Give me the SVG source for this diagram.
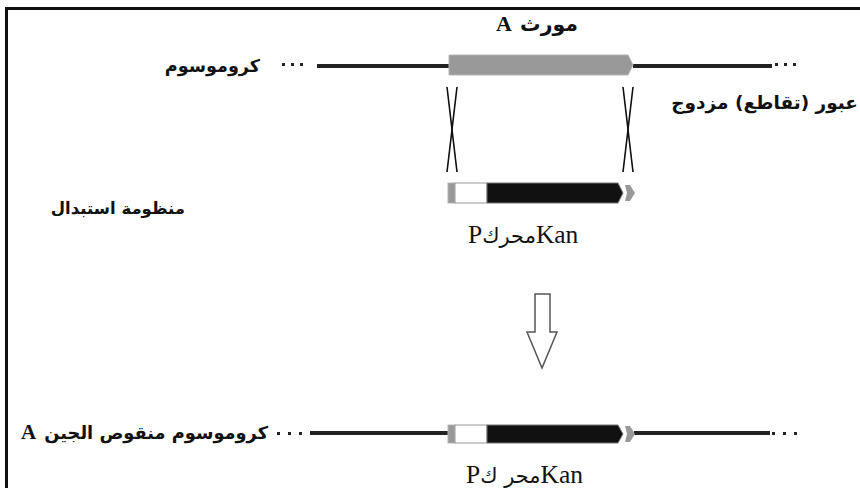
<svg xmlns="http://www.w3.org/2000/svg" width="860" height="488" viewBox="0 0 860 488">
<style>
.ar{font-family:"DejaVu Sans",sans-serif;font-weight:bold;fill:#111}
.ser{font-family:"Liberation Serif",serif;fill:#111}
.lab{font-size:25.5px;fill:#111}
.chr{stroke:#222;stroke-width:4;fill:none}
.x{stroke:#111;stroke-width:1.6;fill:none}
.dot{fill:#222}
.gray{fill:#999;stroke:#b5b5b5;stroke-width:1}
.blk{fill:#111;stroke:#777;stroke-width:1}
.wht{fill:#fff;stroke:#999;stroke-width:1}
</style>
<rect x="0" y="0" width="860" height="488" fill="#fff"/>
<g id="frame">
<line x1="5" y1="8.5" x2="860" y2="8.5" stroke="#111" stroke-width="3"/>
<line x1="6.5" y1="7" x2="6.5" y2="488" stroke="#111" stroke-width="3"/>
</g>
<g id="connectors">
<line class="chr" x1="317" y1="66" x2="449" y2="66"/>
<line class="chr" x1="633" y1="66" x2="772" y2="66"/>
<line class="chr" x1="310" y1="433" x2="448" y2="433"/>
<line class="chr" x1="634" y1="433" x2="770" y2="433"/>
<line class="x" x1="447" y1="87" x2="457" y2="172"/>
<line class="x" x1="457" y1="87" x2="447" y2="172"/>
<line class="x" x1="623" y1="87" x2="633" y2="172"/>
<line class="x" x1="633" y1="87" x2="623" y2="172"/>
<polygon points="535,294 550,294 550,332 557,332 542,368 527,332 535,332" fill="#fff" stroke="#555" stroke-width="1.5"/>
</g>
<g id="dots">
<rect class="dot" x="282" y="63" width="3" height="3"/>
<rect class="dot" x="291" y="63" width="3" height="3"/>
<rect class="dot" x="300" y="63" width="3" height="3"/>
<rect class="dot" x="775" y="63" width="3" height="3"/>
<rect class="dot" x="784" y="63" width="3" height="3"/>
<rect class="dot" x="793" y="63" width="3" height="3"/>
<rect class="dot" x="277" y="432" width="3" height="3"/>
<rect class="dot" x="288" y="432" width="3" height="3"/>
<rect class="dot" x="299" y="432" width="3" height="3"/>
<rect class="dot" x="772" y="432" width="3" height="3"/>
<rect class="dot" x="783" y="432" width="3" height="3"/>
<rect class="dot" x="794" y="432" width="3" height="3"/>
</g>
<g id="geneA">
<polygon class="gray" points="449,55 628,55 633,65 628,75 449,75"/>
<text class="ser" x="496" y="31" font-size="22" font-weight="bold">A</text>
<text class="ar" x="578" y="31" font-size="20.5" text-anchor="end">مورث</text>
</g>
<g id="cassette">
<rect class="gray" x="448" y="183" width="7" height="20"/>
<rect class="wht" x="455" y="183" width="32" height="20"/>
<polygon class="blk" points="487,183 618,183 623,193 618,203 487,203"/>
<polygon fill="#999" points="625,185 630,185 635,193 630,201 625,201 627,193"/>
<text class="lab" x="468" y="243"><tspan class="ser">P</tspan><tspan font-family="DejaVu Sans,sans-serif" font-size="21">محرك</tspan><tspan class="ser">Kan</tspan></text>
</g>
<g id="mutant">
<rect class="gray" x="448" y="425" width="7" height="18"/>
<rect class="wht" x="455" y="425" width="32" height="18"/>
<polygon class="blk" points="487,425 618,425 623,434 618,443 487,443"/>
<polygon fill="#999" points="625,426 630,426 635,434 630,442 625,442 627,434"/>
<text class="lab" x="466" y="483"><tspan class="ser">P</tspan><tspan font-family="DejaVu Sans,sans-serif" font-size="21">محر ك</tspan><tspan class="ser">Kan</tspan></text>
</g>
<g id="labels">
<text class="ar" x="260" y="72" font-size="17.6" text-anchor="end">كروموسوم</text>
<text class="ar" x="858" y="109" font-size="18.5" text-anchor="end">عبور (تقاطع) مزدوج</text>
<text class="ar" x="185" y="214" font-size="16.5" text-anchor="end">منظومة استبدال</text>
<text class="ser" x="21" y="439" font-size="21" font-weight="bold">A</text>
<text class="ar" x="268" y="439" font-size="17.8" text-anchor="end">كروموسوم منقوص الجين</text>
</g>
</svg>
